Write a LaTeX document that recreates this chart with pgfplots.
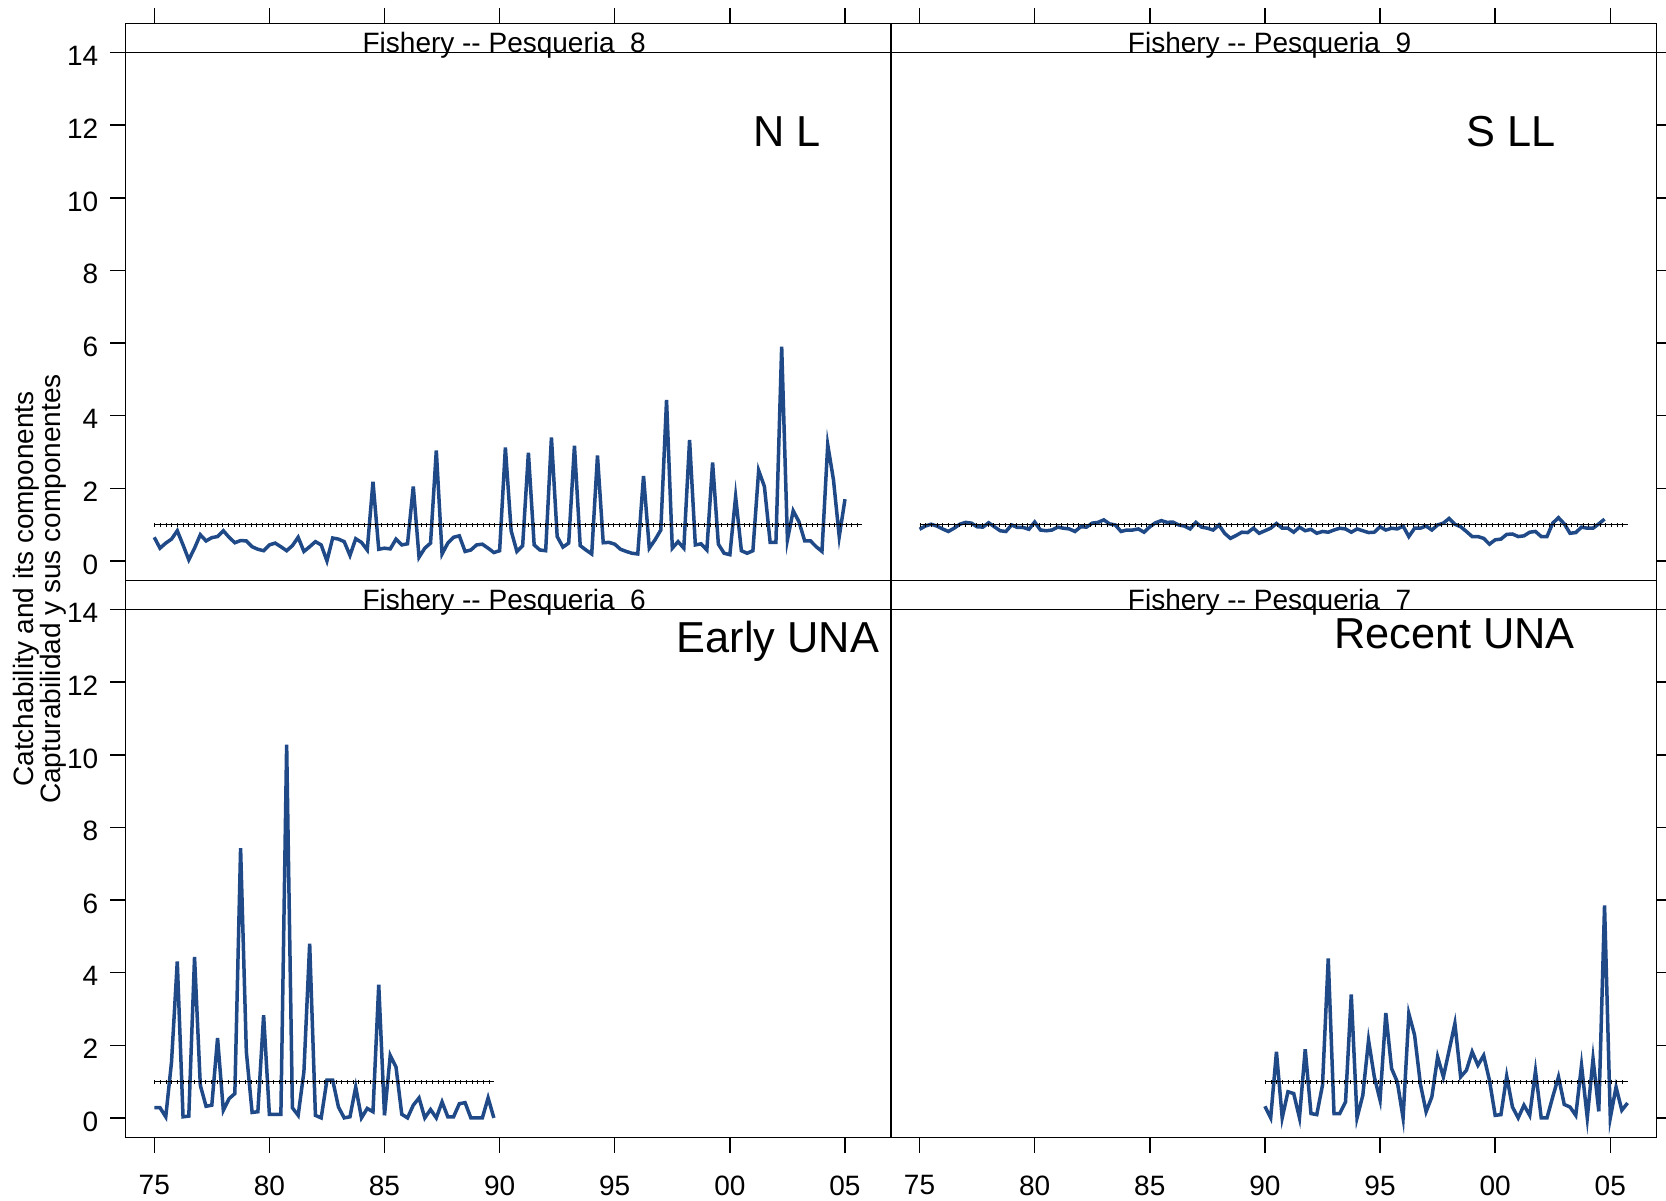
\documentclass[border=0pt]{standalone}
\usepackage{pgfplots}
\pgfplotsset{compat=1.18}
\usepackage{fontspec}
\setmainfont{Liberation Sans}
\definecolor{qblue}{RGB}{31,73,135}
\pgfplotsset{panel/.style={
  scale only axis, width=229.6pt, height=167.1pt,
  xmin=1973.76, xmax=2007.0, ymin=-0.54, ymax=14.80,
  axis line style={line width=0.45pt},
  xtick={1975,1980,1985,1990,1995,2000,2005}, ytick={0,2,4,6,8,10,12,14},
  tick align=outside, major tick length=4.7pt,
  tick style={black, line width=0.45pt},
  every tick label/.append style={font=\fontsize{8.4}{10}\selectfont},
  xticklabel style={yshift=-3.2pt},
  yticklabel style={yshift=-1.1pt},
  /pgf/number format/assume math mode=true,
},
dataline/.style={qblue, line width=1.05pt, line join=miter},
refline/.style={black, line width=0.4pt},
refdots/.style={black, line width=1.2pt, dash pattern=on 0.3pt off 1.4pt},
}
\tikzset{striplabel/.style={anchor=base, inner sep=0pt, font=\fontsize{8.4}{10}\selectfont}}
\newcommand{\strip}[1]{%
  \draw[line width=0.45pt] (axis cs:1973.76,14) -- (axis cs:2007,14);
  \node[striplabel] at (axis cs:1990.2,14) {Fishery -{}- Pesqueria\ \ #1};}
\begin{document}
\begin{tikzpicture}
\useasboundingbox (0,0) rectangle (499.8pt,-360.3pt);
% ---- top left: fishery 8
\begin{axis}[panel, at={(37.71pt,-7.05pt)}, anchor=north west,
  xtick pos=right, xticklabels={}, ytick pos=left, yticklabels={0,2,4,6,8,10,12,14}]
\addplot[dataline] coordinates {
(1975,0.65)(1975.25,0.35)(1975.5,0.49)(1975.75,0.60)
(1976,0.83)(1976.25,0.44)(1976.5,0.03)(1976.75,0.35)
(1977,0.72)(1977.25,0.55)(1977.5,0.64)(1977.75,0.67)
(1978,0.83)(1978.25,0.65)(1978.5,0.50)(1978.75,0.56)
(1979,0.55)(1979.25,0.39)(1979.5,0.32)(1979.75,0.28)
(1980,0.44)(1980.25,0.49)(1980.5,0.39)(1980.75,0.28)
(1981,0.42)(1981.25,0.65)(1981.5,0.26)(1981.75,0.39)
(1982,0.53)(1982.25,0.44)(1982.5,0.00)(1982.75,0.63)
(1983,0.60)(1983.25,0.53)(1983.5,0.15)(1983.75,0.61)
(1984,0.51)(1984.25,0.30)(1984.5,2.18)(1984.75,0.32)
(1985,0.35)(1985.25,0.33)(1985.5,0.60)(1985.75,0.44)
(1986,0.47)(1986.25,2.05)(1986.5,0.10)(1986.75,0.35)
(1987,0.49)(1987.25,3.04)(1987.5,0.19)(1987.75,0.49)
(1988,0.65)(1988.25,0.69)(1988.5,0.26)(1988.75,0.30)
(1989,0.44)(1989.25,0.46)(1989.5,0.35)(1989.75,0.23)
(1990,0.28)(1990.25,3.12)(1990.5,0.83)(1990.75,0.26)
(1991,0.42)(1991.25,2.98)(1991.5,0.44)(1991.75,0.30)
(1992,0.28)(1992.25,3.40)(1992.5,0.67)(1992.75,0.38)
(1993,0.49)(1993.25,3.17)(1993.5,0.42)(1993.75,0.30)
(1994,0.19)(1994.25,2.90)(1994.5,0.50)(1994.75,0.51)
(1995,0.46)(1995.25,0.32)(1995.5,0.26)(1995.75,0.21)
(1996,0.19)(1996.25,2.34)(1996.5,0.35)(1996.75,0.58)
(1997,0.85)(1997.25,4.43)(1997.5,0.35)(1997.75,0.53)
(1998,0.35)(1998.25,3.33)(1998.5,0.44)(1998.75,0.47)
(1999,0.30)(1999.25,2.71)(1999.5,0.46)(1999.75,0.21)
(2000,0.17)(2000.25,1.77)(2000.5,0.28)(2000.75,0.21)
(2001,0.28)(2001.25,2.49)(2001.5,2.05)(2001.75,0.51)
(2002,0.51)(2002.25,5.90)(2002.5,0.58)(2002.75,1.38)
(2003,1.08)(2003.25,0.55)(2003.5,0.55)(2003.75,0.39)
(2004,0.26)(2004.25,3.20)(2004.5,2.23)(2004.75,0.67)
(2005,1.70)};
\addplot[refline] coordinates {(1975,1) (2005.75,1)};
\addplot[refdots] coordinates {(1975,1) (2005.75,1)};
\strip{8}
\end{axis}
% ---- top right: fishery 9
\begin{axis}[panel, at={(267.3pt,-7.05pt)}, anchor=north west,
  xtick pos=right, xticklabels={}, ytick pos=right, yticklabels={}]
\addplot[dataline] coordinates {
(1975,0.87)(1975.25,0.96)(1975.5,1.01)(1975.75,0.96)
(1976,0.88)(1976.25,0.81)(1976.5,0.90)(1976.75,1.01)
(1977,1.06)(1977.25,1.04)(1977.5,0.94)(1977.75,0.93)
(1978,1.05)(1978.25,0.94)(1978.5,0.83)(1978.75,0.81)
(1979,0.99)(1979.25,0.92)(1979.5,0.92)(1979.75,0.87)
(1980,1.07)(1980.25,0.85)(1980.5,0.83)(1980.75,0.85)
(1981,0.93)(1981.25,0.90)(1981.5,0.88)(1981.75,0.81)
(1982,0.94)(1982.25,0.93)(1982.5,1.04)(1982.75,1.06)
(1983,1.13)(1983.25,1.02)(1983.5,0.99)(1983.75,0.81)
(1984,0.85)(1984.25,0.85)(1984.5,0.88)(1984.75,0.79)
(1985,0.94)(1985.25,1.05)(1985.5,1.11)(1985.75,1.06)
(1986,1.07)(1986.25,0.99)(1986.5,0.96)(1986.75,0.88)
(1987,1.06)(1987.25,0.93)(1987.5,0.90)(1987.75,0.85)
(1988,0.99)(1988.25,0.76)(1988.5,0.62)(1988.75,0.70)
(1989,0.79)(1989.25,0.78)(1989.5,0.90)(1989.75,0.76)
(1990,0.83)(1990.25,0.90)(1990.5,1.03)(1990.75,0.90)
(1991,0.90)(1991.25,0.79)(1991.5,0.93)(1991.75,0.83)
(1992,0.87)(1992.25,0.76)(1992.5,0.81)(1992.75,0.79)
(1993,0.85)(1993.25,0.90)(1993.5,0.88)(1993.75,0.79)
(1994,0.88)(1994.25,0.83)(1994.5,0.78)(1994.75,0.79)
(1995,0.94)(1995.25,0.85)(1995.5,0.90)(1995.75,0.88)
(1996,0.96)(1996.25,0.67)(1996.5,0.90)(1996.75,0.90)
(1997,0.96)(1997.25,0.85)(1997.5,0.99)(1997.75,1.04)
(1998,1.17)(1998.25,1.01)(1998.5,0.94)(1998.75,0.81)
(1999,0.67)(1999.25,0.67)(1999.5,0.62)(1999.75,0.46)
(2000,0.58)(2000.25,0.60)(2000.5,0.73)(2000.75,0.74)
(2001,0.67)(2001.25,0.69)(2001.5,0.79)(2001.75,0.81)
(2002,0.67)(2002.25,0.67)(2002.5,1.04)(2002.75,1.19)
(2003,1.02)(2003.25,0.76)(2003.5,0.78)(2003.75,0.93)
(2004,0.90)(2004.25,0.90)(2004.5,1.02)(2004.75,1.15)};
\addplot[refline] coordinates {(1975,1) (2005.75,1)};
\addplot[refdots] coordinates {(1975,1) (2005.75,1)};
\strip{9}
\end{axis}
% ---- bottom left: fishery 6
\begin{axis}[panel, at={(37.71pt,-174.15pt)}, anchor=north west,
  xtick pos=left, xticklabels={75,80,85,90,95,00,05}, ytick pos=left, yticklabels={0,2,4,6,8,10,12,14}]
\addplot[dataline] coordinates {
(1975,0.28)(1975.25,0.28)(1975.5,0.03)(1975.75,1.54)
(1976,4.31)(1976.25,0.03)(1976.5,0.05)(1976.75,4.43)
(1977,0.90)(1977.25,0.32)(1977.5,0.35)(1977.75,2.20)
(1978,0.21)(1978.25,0.53)(1978.5,0.67)(1978.75,7.43)
(1979,1.82)(1979.25,0.15)(1979.5,0.17)(1979.75,2.83)
(1980,0.10)(1980.25,0.10)(1980.5,0.10)(1980.75,10.28)
(1981,0.28)(1981.25,0.07)(1981.5,1.27)(1981.75,4.80)
(1982,0.07)(1982.25,0.00)(1982.5,1.04)(1982.75,1.04)
(1983,0.30)(1983.25,0.00)(1983.5,0.03)(1983.75,0.85)
(1984,0.00)(1984.25,0.26)(1984.5,0.17)(1984.75,3.67)
(1985,0.07)(1985.25,1.72)(1985.5,1.40)(1985.75,0.10)
(1986,0.00)(1986.25,0.35)(1986.5,0.55)(1986.75,0.00)
(1987,0.23)(1987.25,0.00)(1987.5,0.44)(1987.75,0.03)
(1988,0.03)(1988.25,0.39)(1988.5,0.42)(1988.75,0.00)
(1989,0.00)(1989.25,0.00)(1989.5,0.55)(1989.75,0.00)};
\addplot[refline] coordinates {(1975,1) (1989.75,1)};
\addplot[refdots] coordinates {(1975,1) (1989.75,1)};
\strip{6}
\end{axis}
% ---- bottom right: fishery 7
\begin{axis}[panel, at={(267.3pt,-174.15pt)}, anchor=north west,
  xtick pos=left, xticklabels={75,80,85,90,95,00,05}, ytick pos=right, yticklabels={}]
\addplot[dataline] coordinates {
(1990,0.32)(1990.25,0.00)(1990.5,1.82)(1990.75,0.00)
(1991,0.72)(1991.25,0.67)(1991.5,0.00)(1991.75,1.89)
(1992,0.12)(1992.25,0.09)(1992.5,0.90)(1992.75,4.39)
(1993,0.12)(1993.25,0.12)(1993.5,0.44)(1993.75,3.40)
(1994,0.00)(1994.25,0.62)(1994.5,2.14)(1994.75,1.13)
(1995,0.49)(1995.25,2.89)(1995.5,1.36)(1995.75,0.99)
(1996,0.00)(1996.25,2.87)(1996.5,2.28)(1996.75,0.94)
(1997,0.17)(1997.25,0.58)(1997.5,1.68)(1997.75,1.13)
(1998,1.86)(1998.25,2.60)(1998.5,1.13)(1998.75,1.31)
(1999,1.82)(1999.25,1.45)(1999.5,1.72)(1999.75,1.04)
(2000,0.07)(2000.25,0.09)(2000.5,1.15)(2000.75,0.30)
(2001,0.00)(2001.25,0.35)(2001.5,0.07)(2001.75,1.29)
(2002,0.00)(2002.25,0.00)(2002.5,0.58)(2002.75,1.13)
(2003,0.37)(2003.25,0.30)(2003.5,0.07)(2003.75,1.45)
(2004,0.00)(2004.25,1.63)(2004.5,0.18)(2004.75,5.85)
(2005,0.00)(2005.25,0.85)(2005.5,0.21)(2005.75,0.41)};
\addplot[refline] coordinates {(1990,1) (2005.75,1)};
\addplot[refdots] coordinates {(1990,1) (2005.75,1)};
\strip{7}
\end{axis}
% ---- panel labels
\node[anchor=base, inner sep=0pt, font=\fontsize{13}{15}\selectfont] at (236.1pt,-43.98pt) {N L};
\node[anchor=base, inner sep=0pt, font=\fontsize{13}{15}\selectfont] at (453.3pt,-43.98pt) {S LL};
\node[anchor=base, inner sep=0pt, font=\fontsize{13}{15}\selectfont] at (233.4pt,-195.9pt) {Early UNA};
\node[anchor=base, inner sep=0pt, font=\fontsize{13}{15}\selectfont] at (436.35pt,-194.7pt) {Recent UNA};
% ---- y label
\node[rotate=90, align=center, inner sep=0pt, font=\fontsize{8.4}{7.95}\selectfont] at (11.9pt,-176.7pt)
  {Catchability and its components\\Capturabilidad y sus componentes};
\end{tikzpicture}
\end{document}
